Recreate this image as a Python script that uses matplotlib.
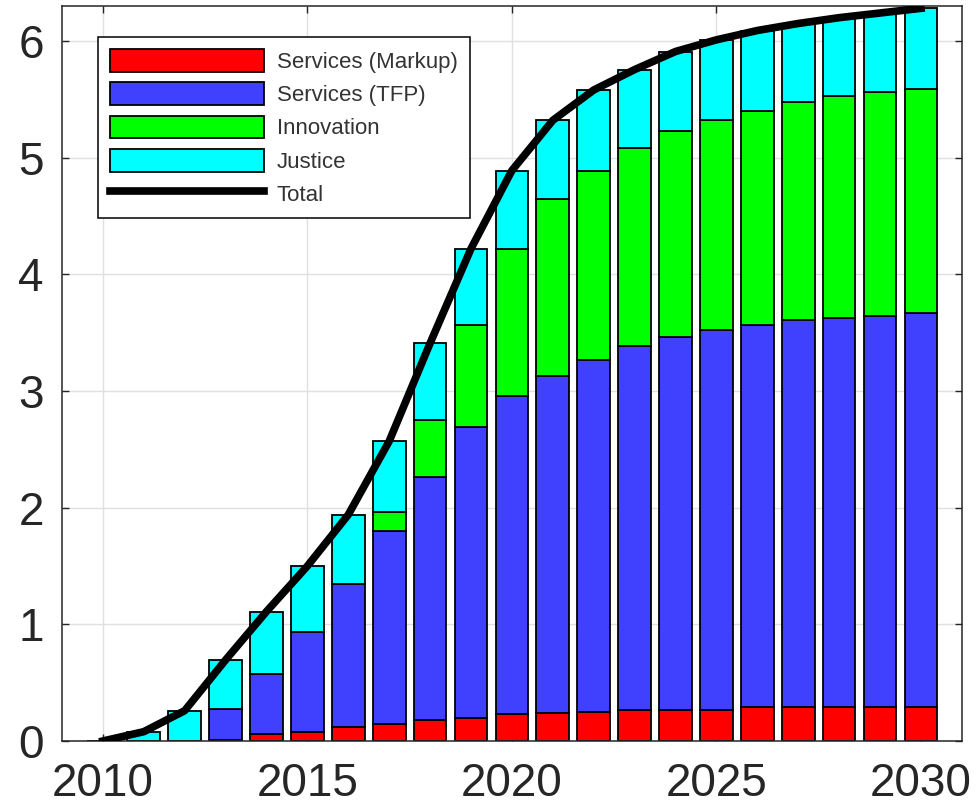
import numpy as np
import matplotlib as mpl
import matplotlib.pyplot as plt

mpl.rcParams.update({
    "font.family": ["Liberation Sans", "DejaVu Sans"],
    "axes.edgecolor": "#262626",
    "xtick.color": "#262626",
    "ytick.color": "#262626",
})

years = np.arange(2010, 2031)
markup = [0, 0, 0, 0.01, 0.06, 0.08, 0.12, 0.145, 0.18, 0.20, 0.233,
          0.236, 0.25, 0.27, 0.27, 0.27, 0.29, 0.29, 0.29, 0.29, 0.29]
tfp = [0, 0, 0, 0.267, 0.515, 0.855, 1.23, 1.655, 2.08, 2.49, 2.722,
       2.894, 3.02, 3.12, 3.195, 3.25, 3.28, 3.32, 3.34, 3.355, 3.375]
innovation = [0, 0, 0, 0, 0, 0, 0, 0.16, 0.49, 0.875, 1.265,
              1.52, 1.62, 1.69, 1.76, 1.80, 1.83, 1.87, 1.895, 1.915, 1.925]
justice = [0, 0.08, 0.26, 0.418, 0.535, 0.565, 0.59, 0.61, 0.66, 0.655, 0.67,
           0.67, 0.69, 0.675, 0.685, 0.69, 0.69, 0.67, 0.675, 0.68, 0.69]

series = [
    ("Services (Markup)", markup, "#ff0000"),
    ("Services (TFP)", tfp, "#4040ff"),
    ("Innovation", innovation, "#00ff00"),
    ("Justice", justice, "#00ffff"),
]

fig = plt.figure(figsize=(9.76, 8.11), dpi=100)
ax = fig.add_axes([0.0635, 0.0863, 0.922, 0.9063])

handles = []
bottom = np.zeros(len(years))
for label, vals, color in series:
    vals = np.asarray(vals)
    h = ax.bar(years, vals, width=0.8, bottom=bottom, color=color,
               edgecolor="black", linewidth=1.3, label=label, zorder=2)
    handles.append(h)
    bottom += vals

# total line = sum of the four stacked contributions
total = bottom
(ln,) = ax.plot(years, total, color="black", lw=5.5, label="Total", zorder=3)
handles.append(ln)

ax.set_xlim(2009, 2031)
ax.set_ylim(0, 6.3)
ax.set_xticks([2010, 2015, 2020, 2025, 2030])
ax.set_yticks(range(7))
ax.grid(True, color="#e0e0e0", lw=1, zorder=0)
ax.set_axisbelow(True)
ax.tick_params(direction="in", length=5, width=1, top=True, right=True,
               labelsize=33)
ax.tick_params(axis="x", pad=15)
ax.tick_params(axis="y", pad=13)
for s in ax.spines.values():
    s.set_linewidth(1.1)

leg = ax.legend(handles=handles, loc="upper left", bbox_to_anchor=(0.04, 0.958),
                borderaxespad=0, fontsize=16, handlelength=6.9, handleheight=1.2,
                labelspacing=0.42, handletextpad=0.6, borderpad=0.55,
                fancybox=False, framealpha=1, edgecolor="black")
leg.get_frame().set_linewidth(1.1)
for t in leg.get_texts():
    t.set_color("#333333")

fig.savefig("out.png", dpi=100)
